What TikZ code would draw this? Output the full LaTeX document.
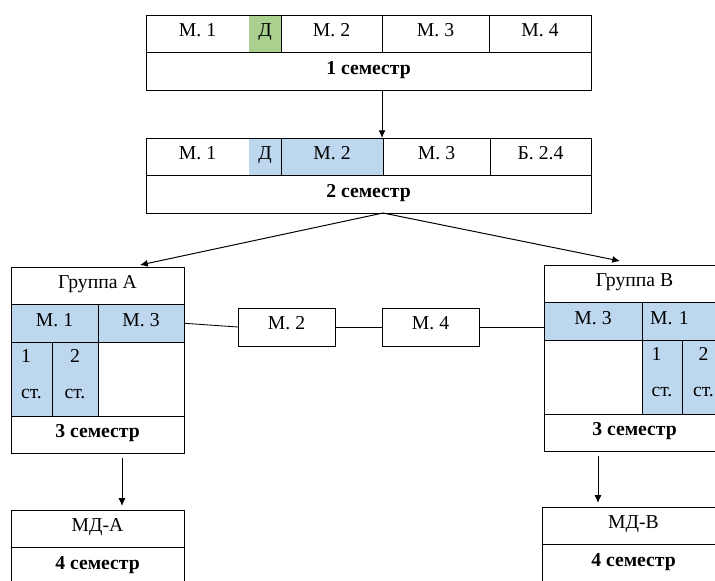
\documentclass[tikz,border=0pt]{standalone}
\usepackage{fontspec}
\setmainfont{Liberation Serif}
\usetikzlibrary{positioning,arrows.meta}

\definecolor{dgreen}{HTML}{A9D08E}
\definecolor{mblue}{HTML}{BDD7EE}

\begin{document}
\begin{tikzpicture}
        [x=0.025cm,y=-0.025cm,>={Latex[length=5.5pt,width=5pt]},
        cellbase/.style={draw,line width=0.7pt,inner sep=0pt,outer sep=0pt,anchor=north west,font=\fontsize{14}{16}\selectfont},
        cell/.style={cellbase,minimum height=37.5*0.025cm,text height=9.5pt,text depth=5.5pt},
        tall/.style={cellbase,minimum height=74*0.025cm,fill=mblue},
        wd/.style={minimum width=#1*0.025cm},
        frame/.style={line width=0.7pt},
        link/.style={line width=0.6pt},
        arr/.style={->,line width=0.7pt},
        darr/.style={->,line width=0.5pt,shorten <=3pt,shorten >=3pt}]
        \useasboundingbox (0,0) rectangle (715,580);
        \clip (0,0) rectangle (715,580);

        % 1 семестр
        \node[cell,draw=none,wd=103] (s1m1) at (146,15) {М. 1};
        \node[cell,draw=none,fill=dgreen,wd=32,right=0pt of s1m1] (s1d) {Д};
        \node[cell,wd=101,right=0pt of s1d] (s1m2) {М. 2};
        \node[cell,wd=107,right=0pt of s1m2] (s1m3) {М. 3};
        \node[cell,wd=102,right=0pt of s1m3] (s1m4) {М. 4};
        \draw[frame] (s1m1.north west) rectangle (s1d.south east);
        \node[cell,wd=445] (s1) at (s1m1.south west) {\textbf{1 семестр}};

        % 2 семестр
        \node[cell,draw=none,wd=103] (s2m1) at (146,138) {М. 1};
        \node[cell,draw=none,fill=mblue,wd=32,right=0pt of s2m1] (s2d) {Д};
        \node[cell,fill=mblue,wd=102,right=0pt of s2d] (s2m2) {М. 2};
        \node[cell,wd=107,right=0pt of s2m2] (s2m3) {М. 3};
        \node[cell,wd=101,right=0pt of s2m3] (s2b) {Б. 2.4};
        \draw[frame] (s2m1.north west) rectangle (s2d.south east);
        \node[cell,wd=445] (s2) at (s2m1.south west) {\textbf{2 семестр}};

        % группа А
        \node[cell,wd=173] (gA) at (11,267) {Группа А};
        \node[cell,fill=mblue,wd=87] (gAm1) at (gA.south west) {М. 1};
        \node[cell,fill=mblue,wd=86,right=0pt of gAm1] (gAm3) {М. 3};
        \node[tall,wd=41,align=left] (gAc1) at (gAm1.south west) {1\\[10pt]ст.\rule[-7pt]{0pt}{7pt}};
        \node[tall,wd=46,align=center,right=0pt of gAc1] (gAc2) {2\\[10pt]ст.\rule[-7pt]{0pt}{7pt}};
        \node[tall,fill=none,wd=86,right=0pt of gAc2] (gAe) {};
        \node[cell,wd=173] (gAs) at (gAc1.south west) {\textbf{3 семестр}};

        % группа В
        \node[cell,wd=181] (gB) at (544,265) {Группа В};
        \node[cell,fill=mblue,wd=98] (gBm3) at (gB.south west) {М. 3};
        \node[cell,fill=mblue,inner xsep=0.2cm,text width=1.675cm,align=left,right=0pt of gBm3] (gBm1) {М. 1};
        \node[tall,fill=none,wd=98] (gBe) at (gBm3.south west) {};
        \node[tall,wd=40,align=left,right=0pt of gBe] (gBc1) {1\\[10pt]ст.\rule[-7pt]{0pt}{7pt}};
        \node[tall,wd=43,align=center,right=0pt of gBc1] (gBc2) {2\\[10pt]ст.\rule[-7pt]{0pt}{7pt}};
        \node[cell,wd=181] (gBs) at (gBe.south west) {\textbf{3 семестр}};

        % модули между группами
        \node[cell,wd=97,minimum height=0.95cm] (mid2) at (238,308) {М. 2};
        \node[cell,wd=97,minimum height=0.95cm] (mid4) at (382,308) {М. 4};

        % 4 семестр
        \node[cell,wd=173] (mdA) at (11,510) {МД-А};
        \node[cell,wd=173] (mdAs) at (mdA.south west) {\textbf{4 семестр}};
        \node[cell,wd=183] (mdB) at (542,507) {МД-В};
        \node[cell,wd=183] (mdBs) at (mdB.south west) {\textbf{4 семестр}};

        \coordinate (tipA) at (140,265);
        \coordinate (tipB) at (620,261);
        \coordinate (outA) at (122,453.5);
        \coordinate (outB) at (598,451.5);

        \draw[arr] (s1.south -| s1m2.east) -- (s1m2.east |- s2m2.north);
        \draw[arr] (s2.south -| s2m2.east) -- (tipA);
        \draw[arr] (s2.south -| s2m2.east) -- (tipB);
        \draw[link] (gAm3.east) -- (mid2.west);
        \draw[link] (mid2) -- (mid4);
        \draw[link] (mid4.east) -- (mid4.east -| gBm3.west);
        \draw[darr] (outA) -- (outA |- mdA.north);
        \draw[darr] (outB) -- (outB |- mdB.north);
\end{tikzpicture}
\end{document}
